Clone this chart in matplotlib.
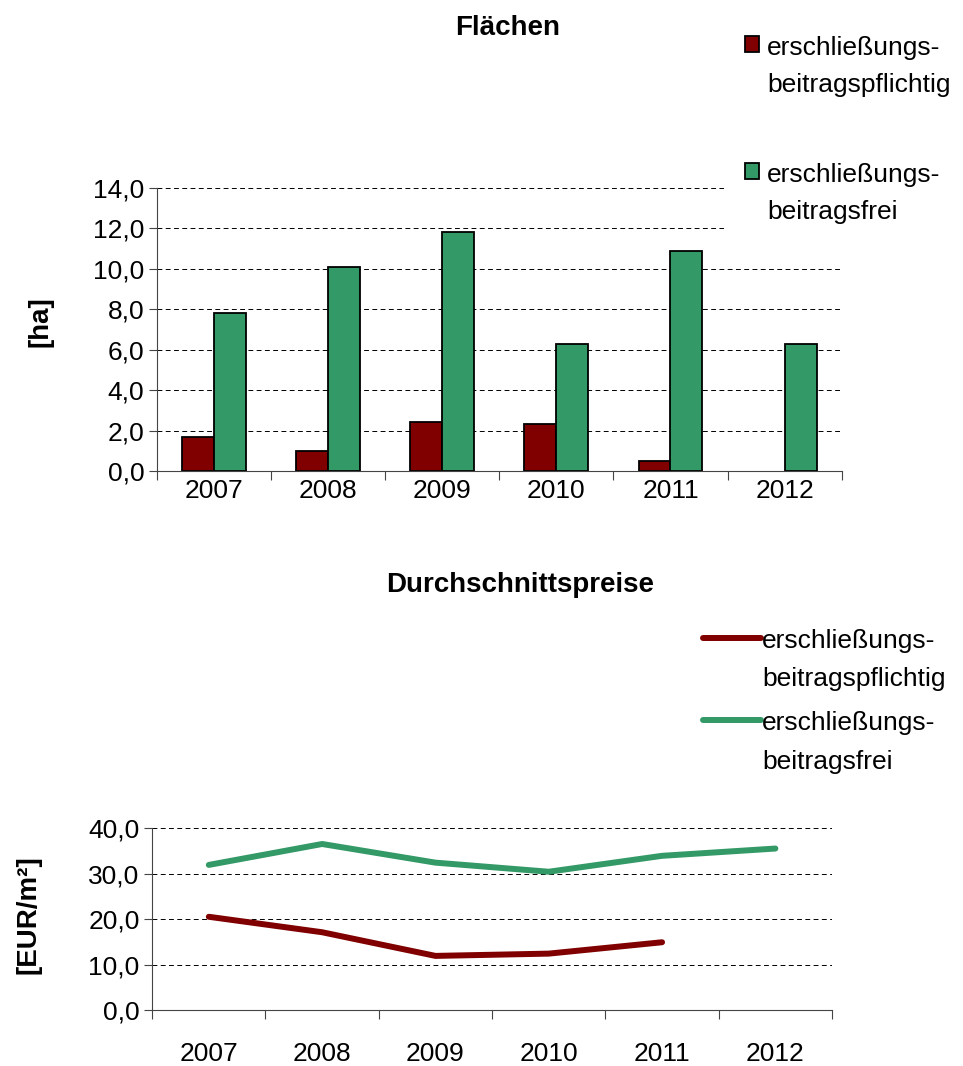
import numpy as np
import matplotlib.pyplot as plt

plt.rcParams['font.family'] = ['Liberation Sans', 'DejaVu Sans']

# Daten
jahre = ['2007', '2008', '2009', '2010', '2011', '2012']
flaeche_pflichtig = [1.7, 1.0, 2.4, 2.3, 0.5, np.nan]
flaeche_frei = [7.8, 10.1, 11.8, 6.3, 10.9, 6.3]
preis_pflichtig = [20.5, 17.1, 11.9, 12.4, 14.9, np.nan]
preis_frei = [31.9, 36.5, 32.4, 30.4, 33.9, 35.5]
lab_pflichtig = 'erschließungs-\nbeitragspflichtig'
lab_frei = 'erschließungs-\nbeitragsfrei'

rot = '#800000'
gruen = '#339966'
fs = 19

fig = plt.figure(figsize=(9.63, 10.66), dpi=100)
x = np.arange(len(jahre))


def achse(ax, ymax, ystep, xpad):
    ax.set_xlim(-0.5, len(jahre) - 0.5)
    ax.set_ylim(0, ymax)
    ax.set_yticks(np.arange(0, ymax + 0.1, ystep))
    ax.set_yticklabels([f'{v:.1f}'.replace('.', ',') for v in np.arange(0, ymax + 0.1, ystep)])
    ax.set_xticks(np.arange(-0.5, len(jahre)), labels=[])
    ax.set_xticks(x, labels=jahre, minor=True)
    ax.tick_params(axis='x', which='major', length=6.5, width=0.8, direction='out', color='#444444')
    ax.tick_params(axis='x', which='minor', length=0, pad=xpad, labelsize=fs)
    ax.tick_params(axis='y', length=6, width=0.8, pad=3, labelsize=fs, color='#444444')
    for s in ['top', 'right']:
        ax.spines[s].set_visible(False)
    for s in ['left', 'bottom']:
        ax.spines[s].set_color('#444444')
        ax.spines[s].set_linewidth(0.8)
    ax.yaxis.grid(True, color='black', linestyle=(0, (5, 3.5)), linewidth=0.7)
    ax.set_axisbelow(True)


# Flächen
ax1 = fig.add_axes([0.163, 0.5582, 0.711, 0.2655])
w = 0.28
b1 = ax1.bar(x - w / 2, flaeche_pflichtig, w, color=rot, edgecolor='black', linewidth=1.3, label=lab_pflichtig)
b2 = ax1.bar(x + w / 2, flaeche_frei, w, color=gruen, edgecolor='black', linewidth=1.3, label=lab_frei)
achse(ax1, 14, 2, 6)
fig.text(0.042, 0.698, '[ha]', rotation=90, ha='center', va='center', fontsize=20, fontweight='bold')
fig.text(0.5275, 0.9737, 'Flächen', ha='center', va='center', fontsize=20, fontweight='bold')

leg1 = fig.legend(handles=[b1, b2], labels=[lab_pflichtig, lab_frei], loc='upper left',
                  bbox_to_anchor=(0.7736 - 0.022, 0.966 + 0.02), fontsize=fs, frameon=True,
                  facecolor='white', edgecolor='none', framealpha=1, fancybox=False,
                  handlelength=0.55, handleheight=0.55, handletextpad=0.3, labelspacing=2.5,
                  borderpad=0.8, borderaxespad=0)

# Durchschnittspreise
ax2 = fig.add_axes([0.158, 0.0525, 0.706, 0.1707])
l1, = ax2.plot(x, preis_pflichtig, color=rot, linewidth=4.3, solid_capstyle='round', label=lab_pflichtig)
l2, = ax2.plot(x, preis_frei, color=gruen, linewidth=4.3, solid_capstyle='round', label=lab_frei)
achse(ax2, 40, 10, 23)
fig.text(0.030, 0.1417, '[EUR/m²]', rotation=90, ha='center', va='center', fontsize=20, fontweight='bold')
fig.text(0.540, 0.4512, 'Durchschnittspreise', ha='center', va='center', fontsize=20, fontweight='bold')

leg2 = fig.legend(handles=[l1, l2], labels=[lab_pflichtig, lab_frei], loc='upper left',
                  bbox_to_anchor=(0.730, 0.410), fontsize=fs, frameon=False,
                  handlelength=2.2, handletextpad=0.05, labelspacing=0.75,
                  borderpad=0, borderaxespad=0)

# Zeilenabstand wie im Original, Symbole auf die erste Textzeile setzen
for leg, ls in [(leg1, 1.68), (leg2, 1.76)]:
    for t in leg.get_texts():
        t.set_linespacing(ls)
    for col in leg._legend_handle_box.get_children():
        for item in col.get_children():
            item.align = 'top'

fig.savefig('out.png', dpi=100)
